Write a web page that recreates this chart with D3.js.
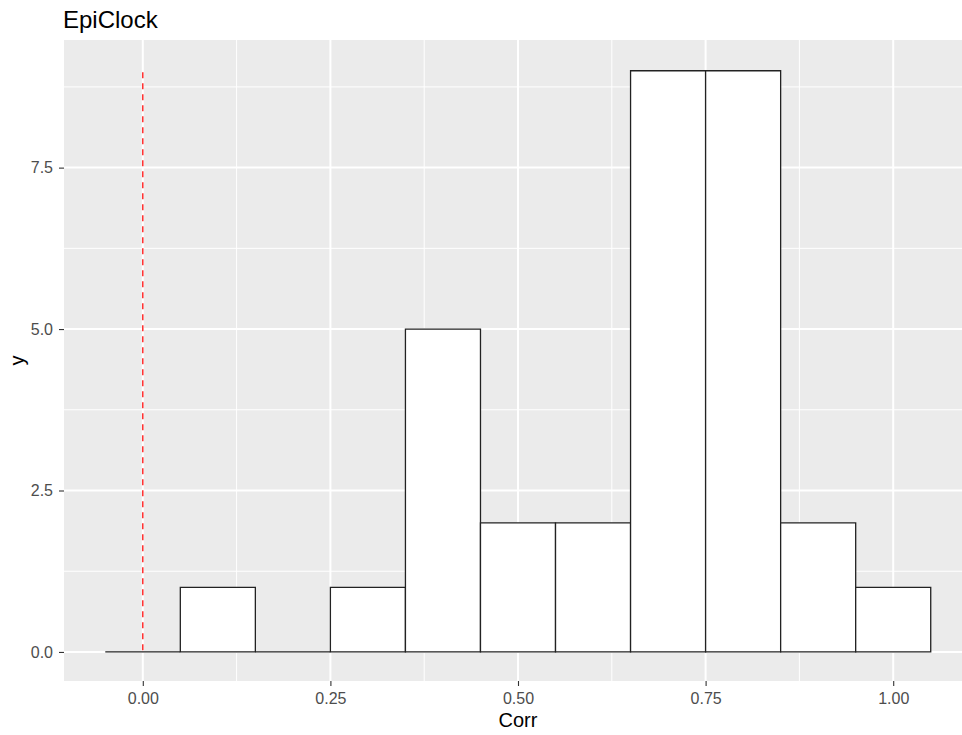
<!DOCTYPE html>
<html><head><meta charset="utf-8">
<script src="https://cdn.jsdelivr.net/npm/d3@7"></script>
<style>body{margin:0;background:#fff;} svg{display:block;}</style>
</head><body>
<svg id="c" width="962" height="735"></svg>
<script>
const binStarts = [-0.05, 0.05, 0.15, 0.25, 0.35, 0.45, 0.55, 0.65, 0.75, 0.85, 0.95];
const binWidth = 0.1;
const counts = [0, 1, 0, 1, 5, 2, 2, 9, 9, 2, 1];
const xTicks = [0, 0.25, 0.5, 0.75, 1.0];
const xTickLabels = ["0.00", "0.25", "0.50", "0.75", "1.00"];
const yTicks = [0, 2.5, 5.0, 7.5];
const yTickLabels = ["0.0", "2.5", "5.0", "7.5"];
const xMinor = [0.125, 0.375, 0.625, 0.875];
const yMinor = [1.25, 3.75, 6.25, 8.75];
const vline = 0;
const vlineTop = 9;
const title = "EpiClock";
const xTitle = "Corr";
const yTitle = "y";

const svg = d3.select("#c");
const font = "'Liberation Sans', Arial, sans-serif";
const panel = {left: 64, top: 40, right: 972, bottom: 681};
const x = d3.scaleLinear().domain([-0.105, 1.105]).range([panel.left, panel.right]);
const y = d3.scaleLinear().domain([-0.45, 9.45]).range([panel.bottom, 41.7]);

svg.append("rect").attr("x", panel.left).attr("y", panel.top)
  .attr("width", panel.right - panel.left).attr("height", panel.bottom - panel.top)
  .attr("fill", "#EBEBEB");

const grid = svg.append("g");
xMinor.forEach(v => grid.append("line").attr("x1", x(v)).attr("x2", x(v))
  .attr("y1", panel.top).attr("y2", panel.bottom).attr("stroke", "#fff").attr("stroke-width", 1));
yMinor.forEach(v => grid.append("line").attr("y1", y(v)).attr("y2", y(v))
  .attr("x1", panel.left).attr("x2", panel.right).attr("stroke", "#fff").attr("stroke-width", 1));
xTicks.forEach(v => grid.append("line").attr("x1", x(v)).attr("x2", x(v))
  .attr("y1", panel.top).attr("y2", panel.bottom).attr("stroke", "#fff").attr("stroke-width", 2));
yTicks.forEach(v => grid.append("line").attr("y1", y(v)).attr("y2", y(v))
  .attr("x1", panel.left).attr("x2", panel.right).attr("stroke", "#fff").attr("stroke-width", 2));

// histogram bars drawn as closed outlines so zero-count bins still show a baseline
svg.append("g").selectAll("path").data(binStarts).join("path")
  .attr("d", (d, i) => {
    const x0 = x(d), x1 = x(d + binWidth), y0 = y(0), y1 = y(counts[i]);
    return `M${x0},${y0}L${x0},${y1}L${x1},${y1}L${x1},${y0}Z`;
  })
  .attr("fill", "#fff").attr("stroke", "#222").attr("stroke-width", 1.3);

svg.append("line").attr("x1", x(vline)).attr("x2", x(vline))
  .attr("y1", y(vlineTop) + 1.5).attr("y2", y(0))
  .attr("stroke", "#FF2020").attr("stroke-width", 1.4).attr("stroke-dasharray", "6,5");

// axes
const xAxis = svg.append("g").attr("transform", `translate(0,${panel.bottom})`)
  .call(d3.axisBottom(x).tickValues(xTicks).tickFormat((d, i) => xTickLabels[i]).tickSize(5).tickPadding(7));
const yAxis = svg.append("g").attr("transform", `translate(${panel.left},0)`)
  .call(d3.axisLeft(y).tickValues(yTicks).tickFormat((d, i) => yTickLabels[i]).tickSize(5).tickPadding(6));
[xAxis, yAxis].forEach(a => {
  a.select(".domain").remove();
  a.selectAll(".tick line").attr("stroke", "#333").attr("stroke-width", 1.1);
  a.selectAll(".tick text").attr("fill", "#4D4D4D").style("font-family", font).style("font-size", "16px");
});

svg.append("text").attr("x", 63).attr("y", 27.5).text(title)
  .style("font-family", font).style("font-size", "24px").attr("fill", "#000");
svg.append("text").attr("x", x(0.5)).attr("y", 727).attr("text-anchor", "middle").text(xTitle)
  .style("font-family", font).style("font-size", "20px").attr("fill", "#000");
svg.append("text").attr("transform", `translate(24,${(panel.top + panel.bottom) / 2}) rotate(-90)`)
  .attr("text-anchor", "middle").text(yTitle)
  .style("font-family", font).style("font-size", "20px").attr("fill", "#000");
</script>
</body></html>
